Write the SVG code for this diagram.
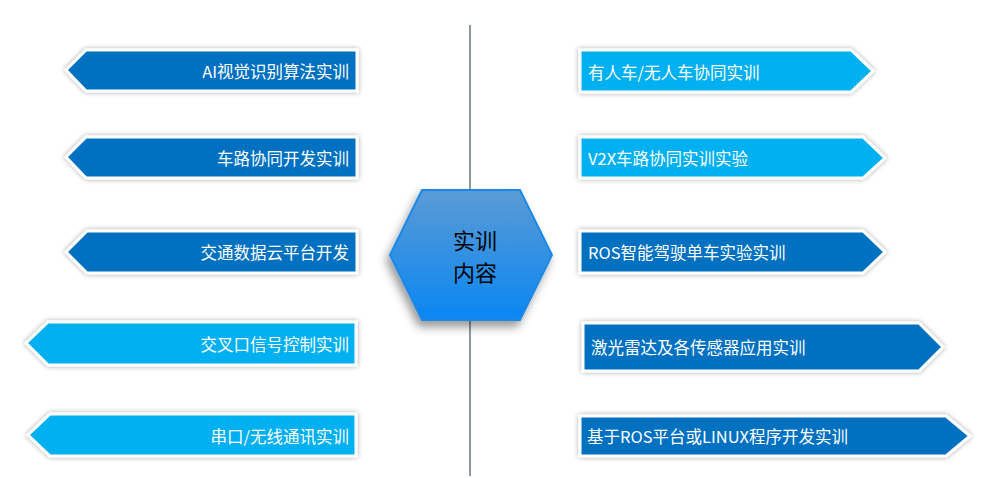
<svg xmlns="http://www.w3.org/2000/svg" width="996" height="478" viewBox="0 0 996 478">
<defs>
<filter id="sh" x="-10%" y="-30%" width="120%" height="160%"><feDropShadow dx="0" dy="0" stdDeviation="2.5" flood-color="#000" flood-opacity="0.35"/></filter>
<filter id="hs" x="-20%" y="-20%" width="140%" height="150%"><feDropShadow dx="-3" dy="6" stdDeviation="5" flood-color="#000" flood-opacity="0.4"/></filter>
<linearGradient id="hg" x1="0" y1="0" x2="0" y2="1"><stop offset="0" stop-color="#5b9bd5"/><stop offset="1" stop-color="#0a86f2"/></linearGradient>
</defs>
<style>
.d{fill:#0070c0;stroke:#fff;stroke-width:3;filter:url(#sh)}
.l{fill:#00b0f0;stroke:#fff;stroke-width:3;filter:url(#sh)}
text{font-family:"Noto Sans CJK SC","Liberation Sans",sans-serif;fill:#fff;font-size:16.5px;dominant-baseline:central}
.r{text-anchor:end}
.c{fill:#000;font-size:22px;text-anchor:middle}
</style>
<rect width="996" height="478" fill="#fff"/>
<g id="connectors" stroke="#44546a" stroke-width="1.2"><line x1="470" y1="25" x2="470" y2="190"/><line x1="470" y1="320" x2="470" y2="476"/></g>
<g id="l1"><polygon class="d" points="66,70 86,50 357,50 357,91 86,91"/><text class="r" x="349" y="71">AI视觉识别算法实训</text></g>
<g id="l2"><polygon class="d" points="66,157 86,137 357,137 357,178 86,178"/><text class="r" x="349" y="158">车路协同开发实训</text></g>
<g id="l3"><polygon class="d" points="66,252 87,231 357,231 357,273 87,273"/><text class="r" x="349" y="252">交通数据云平台开发</text></g>
<g id="l4"><polygon class="l" points="26,343 48,322 356,322 356,365 48,365"/><text class="r" x="349" y="344">交叉口信号控制实训</text></g>
<g id="l5"><polygon class="l" points="28,435 50,414 356,414 356,456 50,456"/><text class="r" x="349" y="436">串口/无线通讯实训</text></g>
<g id="r1"><polygon class="l" points="580,50 851,50 873,71 851,92 580,92"/><text x="588" y="72">有人车/无人车协同实训</text></g>
<g id="r2"><polygon class="l" points="580,137 863,137 885,158 863,178 580,178"/><text x="588" y="158">V2X车路协同实训实验</text></g>
<g id="r3"><polygon class="d" points="580,231 863,231 885,252 863,273 580,273"/><text x="588" y="252">ROS智能驾驶单车实验实训</text></g>
<g id="r4"><polygon class="d" points="583,323 919,323 943,347 919,371 583,371"/><text x="591" y="347">激光雷达及各传感器应用实训</text></g>
<g id="r5"><polygon class="d" points="580,416 946,416 970,436 946,456 580,456"/><text x="587" y="436">基于ROS平台或LINUX程序开发实训</text></g>
<g id="center"><polygon points="422,190 520,190 552,255 520,320 422,320 390,255" fill="url(#hg)" stroke="#1e88e5" stroke-width="2" filter="url(#hs)"/>
<text class="c" x="475" y="239">实训</text><text class="c" x="475" y="271">内容</text></g>
</svg>
